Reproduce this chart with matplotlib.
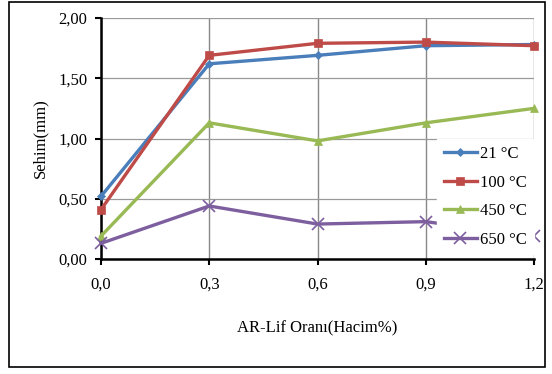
import matplotlib
matplotlib.use("Agg")
import matplotlib.pyplot as plt
from matplotlib.patches import Rectangle
from matplotlib.ticker import FuncFormatter

# Fiber ratio (volume %) and deflection (mm) at each temperature
oran = [0.0, 0.3, 0.6, 0.9, 1.2]
sehim_21 = [0.52, 1.62, 1.69, 1.77, 1.78]
sehim_100 = [0.41, 1.69, 1.79, 1.80, 1.77]
sehim_450 = [0.19, 1.13, 0.98, 1.13, 1.25]
sehim_650 = [0.13, 0.44, 0.29, 0.31, 0.19]
seri_adlari = ["21 °C", "100 °C", "450 °C", "650 °C"]

plt.rcParams["font.family"] = ["Liberation Serif", "DejaVu Serif"]

fig = plt.figure(figsize=(5.52, 3.74), dpi=100)
ax = fig.add_axes([101 / 552, 1 - 259 / 374, 433 / 552, 241 / 374])

styles = [
    (sehim_21, "#4a7ebb", "D", 4),
    (sehim_100, "#be4b48", "s", 6),
    (sehim_450, "#98b954", "^", 6),
    (sehim_650, "#7d5fa0", "x", 8),
]
for (vals, col, mk, ms), name in zip(styles, seri_adlari):
    ax.plot(oran, vals, color=col, lw=2.4, marker=mk, markersize=ms,
            markeredgewidth=1.2 if mk == "x" else 0.5, label=name,
            clip_on=False, zorder=3)

ax.set_xlim(0, 1.2)
ax.set_ylim(0, 2.0)
ax.set_xticks(oran)
ax.set_yticks([0, 0.5, 1.0, 1.5, 2.0])
ax.xaxis.set_major_formatter(FuncFormatter(lambda v, p: f"{v:.1f}".replace(".", ",")))
ax.yaxis.set_major_formatter(FuncFormatter(lambda v, p: f"{v:.2f}".replace(".", ",")))

ax.grid(True, color="#9a9a9a", lw=0.9)
ax.xaxis.grid(True, color="#888888", lw=1.0)
ax.set_axisbelow(True)
for s in ["top", "right"]:
    ax.spines[s].set_visible(False)
for s in ["left", "bottom"]:
    ax.spines[s].set_linewidth(1.8)
    ax.spines[s].set_color("black")
ax.tick_params(axis="both", direction="out", length=4, width=1.5, labelsize=12, pad=6)
ax.tick_params(axis="x", pad=9)

ax.set_xlabel("AR-Lif Oranı(Hacim%)", fontsize=12, labelpad=20)
ax.set_ylabel("Sehim(mm)", fontsize=12, labelpad=7)

leg = ax.legend(loc="lower right", bbox_to_anchor=(1.0, 0.02), fontsize=12,
                frameon=True, fancybox=False, framealpha=1.0, edgecolor="white",
                handlelength=2.0, labelspacing=0.75, borderpad=0.4, handletextpad=0.2,
                borderaxespad=0.0)
leg.set_zorder(5)

fig.patches.append(Rectangle((9 / 552, 1 - 367 / 374), 536 / 552, 365 / 374,
                             transform=fig.transFigure, fill=False,
                             edgecolor="black", lw=1.2))

fig.savefig("out.png", dpi=100)
